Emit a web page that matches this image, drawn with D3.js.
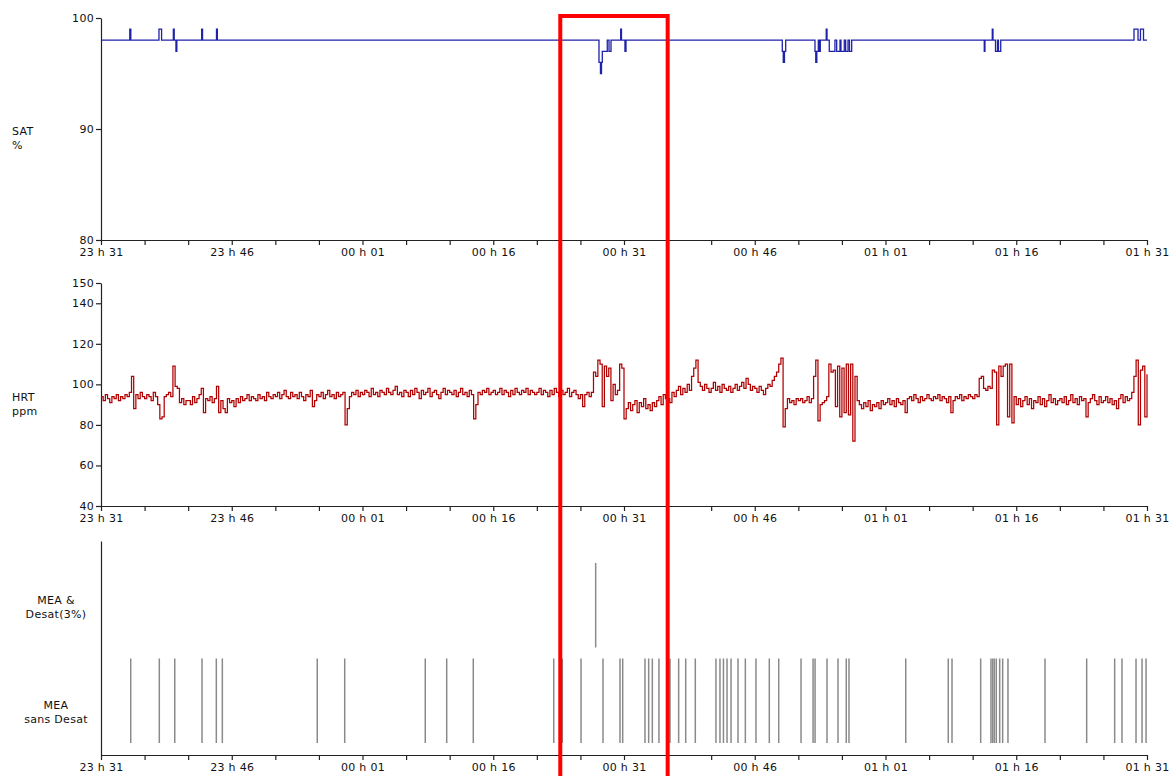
<!DOCTYPE html>
<html><head><meta charset="utf-8">
<script src="https://cdn.jsdelivr.net/npm/d3@7"></script>
<style>
html,body{margin:0;padding:0;background:#fff;}
svg{display:block;font-family:"DejaVu Sans",Verdana,sans-serif;}
.axis text{font-size:11px;fill:#111;letter-spacing:0.3px;font-family:"DejaVu Sans",Verdana,sans-serif;}
.axis path,.axis line{stroke:#222;stroke-width:1.2;}
.lbl{font-size:11px;fill:#111;letter-spacing:0.3px;}
</style></head><body>
<svg id="chart" width="1171" height="776"></svg>
<script>
// ---- time axis (minutes after 23:31) ----
const tickMinutes = d3.range(0, 121, 5);
const tickLabels = ["23 h 31","23 h 46","00 h 01","00 h 16","00 h 31","00 h 46","01 h 01","01 h 16","01 h 31"];

// ---- SAT (%) change points: minutes, value ----
const satTimes = [0,
  3.30,3.42, 6.65,6.95, 8.30,8.40,8.60,8.70, 11.55,11.65, 13.25,13.35,
  57.13,57.30,57.42,57.51,58.08,58.28,58.51, 59.62,59.71,60.11,60.23,
  78.16,78.27,78.41,78.55,
  81.91,82.00,82.12,82.29,82.37,82.52, 83.20,83.29,
  83.55,84.20,84.40,84.78,84.89,85.27,85.43,85.70,85.87,86.12,
  101.33,101.41, 102.25,102.33, 102.62,102.85,102.96,103.22,
  118.51,118.97,119.25,119.60, 120];
const satValues = [98,
  99,98, 99,98, 99,98,97,98, 99,98, 99,98,
  96,95,96,97,98,97,98, 99,98,97,98,
  97,96,97,98,
  97,96,97,98,97,98, 99,98,
  97,98,97,98,97,98,97,98,97,98,
  97,98, 99,98, 97,98,97,98,
  99,98,99,98, 98];
const satTicks = [80, 90, 100];

// ---- HRT (ppm), one reading every 0.25 min from 23:31 ----
const hrtIntervalMin = 0.25;
const hrtValues = [
  94,92,95,93,91,94,93,95,92,94,93,95,94,96,104,88,95,93,96,94,
  93,95,94,92,96,94,90,83,84,94,95,96,94,109,99,98,91,93,90,92,
  92,90,94,91,93,95,98,86,93,92,94,91,93,99,86,92,88,86,93,91,
  92,89,93,91,94,92,93,95,92,94,93,92,95,93,94,92,96,94,93,95,
  94,96,93,95,97,94,93,96,94,95,93,96,94,92,95,94,97,89,92,95,
  94,96,93,95,97,94,95,93,96,94,95,96,80,88,94,96,95,97,94,96,
  95,97,96,94,98,95,96,94,97,96,95,98,96,95,97,99,95,96,94,97,
  96,94,97,95,98,96,93,97,95,96,98,94,96,97,95,93,96,98,95,97,
  96,95,97,94,96,98,95,96,94,97,95,83,90,96,95,97,96,98,95,96,
  97,95,96,98,95,97,96,94,97,95,98,96,95,97,96,98,95,97,96,95,
  96,98,95,97,96,94,97,95,98,96,94,97,95,96,98,94,96,97,95,93,
  95,89,95,96,94,96,106,104,112,110,89,109,104,108,92,100,95,97,110,108,
  83,88,91,87,90,92,86,91,89,93,88,90,87,91,89,92,94,90,95,93,
  93,91,96,94,97,99,95,98,96,100,97,104,108,112,101,99,97,100,98,96,
  98,101,97,99,96,100,98,97,99,96,98,100,97,99,101,98,103,100,97,99,
  98,96,99,97,95,98,100,99,102,104,106,110,113,79,88,93,91,92,90,93,
  92,93,91,92,94,91,93,104,112,82,90,91,92,94,110,106,107,89,109,84,
  108,86,110,85,110,72,104,92,90,88,91,89,92,87,90,89,91,88,92,90,
  91,93,90,92,89,93,91,90,92,86,93,94,92,95,93,91,94,92,93,95,
  93,92,94,93,95,92,94,93,91,94,86,92,94,93,95,92,94,93,95,94,
  93,95,94,103,104,98,97,99,98,107,106,80,109,104,109,110,84,110,81,94,
  90,93,89,92,94,90,93,88,92,91,94,90,93,89,92,95,91,93,90,92,
  93,91,94,90,92,95,91,93,90,94,92,93,84,91,93,95,92,90,94,91,
  92,94,91,93,90,92,88,93,95,91,94,92,93,96,104,112,80,107,109,84,
  105];
const hrtTicks = [40, 60, 80, 100, 120, 140, 150];

// ---- events (minutes) ----
const eventCategories = ["MEA & Desat(3%)", "MEA sans Desat"];
const meaDesatTimes = [56.75];
const meaSansDesatTimes = [
  3.41,6.69,8.46,11.59,13.23,13.92,24.81,27.96,37.20,39.66,42.71,
  51.94,52.92,55.07,57.59,59.54,59.85,62.41,62.83,63.25,64.01,65.28,
  66.27,67.08,68.18,70.55,71.01,71.41,71.82,72.28,73.08,73.92,75.14,
  76.67,77.75,80.31,81.69,81.92,83.29,84.55,85.50,85.81,92.32,97.20,
  97.63,100.92,102.10,102.30,102.48,102.71,103.10,103.44,104.05,108.30,
  113.08,116.29,117.13,118.74,119.43,119.89];

// ---- highlighted window (minutes) ----
const highlightWindow = [52.69, 65.01];

// ================= drawing =================
const svg = d3.select("#chart");
svg.append("rect").attr("width",1171).attr("height",776).attr("fill","#fff");

const x = d3.scaleLinear().domain([0,120]).range([101,1147]);
const ySat = d3.scaleLinear().domain([80,100]).range([240,18]);
const yHrt = d3.scaleLinear().domain([40,150]).range([506,283]);
const yEvt = d3.scaleBand().domain(eventCategories).range([563,743]).paddingInner(0.115);
const yEvtAxis = d3.scaleLinear().domain([0,1]).range([755,541]);

const xAxis = () => d3.axisBottom(x).tickValues(tickMinutes).tickSize(5).tickSizeOuter(0)
  .tickFormat(d => d % 15 === 0 ? tickLabels[d/15] : "");

function drawXAxis(yPos){
  svg.append("g").attr("class","axis").attr("transform",`translate(0,${yPos})`).call(xAxis());
}

// SAT panel
svg.append("g").attr("class","axis").attr("transform",`translate(${x(0)},0)`)
  .call(d3.axisLeft(ySat).tickValues(satTicks).tickSize(5).tickSizeOuter(0).tickPadding(2));
drawXAxis(ySat(80));
const satData = satTimes.map((t,i)=>({t, v: satValues[i]}));
svg.append("path").datum(satData)
  .attr("fill","none").attr("stroke","#1f22a8").attr("stroke-width",1.3)
  .attr("d", d3.line().x(d=>x(d.t)).y(d=>ySat(d.v)).curve(d3.curveStepAfter));

// HRT panel
svg.append("g").attr("class","axis").attr("transform",`translate(${x(0)},0)`)
  .call(d3.axisLeft(yHrt).tickValues(hrtTicks).tickSize(5).tickSizeOuter(0).tickPadding(2));
drawXAxis(yHrt(40));
const hrtData = hrtValues.map((v,i)=>({t: i*hrtIntervalMin, v}));
svg.append("path").datum(hrtData)
  .attr("fill","none").attr("stroke","#b00000").attr("stroke-width",1.25)
  .attr("d", d3.line().x(d=>x(d.t)).y(d=>yHrt(d.v)).curve(d3.curveStepAfter));

// Events panel
svg.append("g").attr("class","axis").attr("transform",`translate(${x(0)},0)`)
  .call(d3.axisLeft(yEvtAxis).tickValues([]).tickSizeOuter(0));
drawXAxis(yEvtAxis(0));
const evGroups = [[eventCategories[0], meaDesatTimes],[eventCategories[1], meaSansDesatTimes]];
evGroups.forEach(([cat, times])=>{
  svg.append("g").selectAll("line").data(times).join("line")
    .attr("x1",d=>x(d)).attr("x2",d=>x(d))
    .attr("y1",yEvt(cat)).attr("y2",yEvt(cat)+yEvt.bandwidth())
    .attr("stroke","#8a8a8a").attr("stroke-width",1.5);
});

// Side labels
function sideLabel(lines, xPos, yBase, anchor){
  const t = svg.append("text").attr("class","lbl").attr("text-anchor",anchor);
  lines.forEach((s,i)=>t.append("tspan").attr("x",xPos).attr("y",yBase+i*14).text(s));
}
sideLabel(["SAT","%"], 12, ySat(90)+6, "start");
sideLabel(["HRT","ppm"], 12, yHrt(100)+17, "start");
sideLabel(["MEA &","Desat(3%)"], 56, yEvt(eventCategories[0])+yEvt.bandwidth()/2-1, "middle");
sideLabel(["MEA","sans Desat"], 56, yEvt(eventCategories[1])+yEvt.bandwidth()/2+8, "middle");

// Highlight rectangle
svg.append("rect")
  .attr("x", x(highlightWindow[0])).attr("y", 16)
  .attr("width", x(highlightWindow[1]) - x(highlightWindow[0])).attr("height", 800)
  .attr("fill","none").attr("stroke","#ff0000").attr("stroke-width",4);
</script>
</body></html>
